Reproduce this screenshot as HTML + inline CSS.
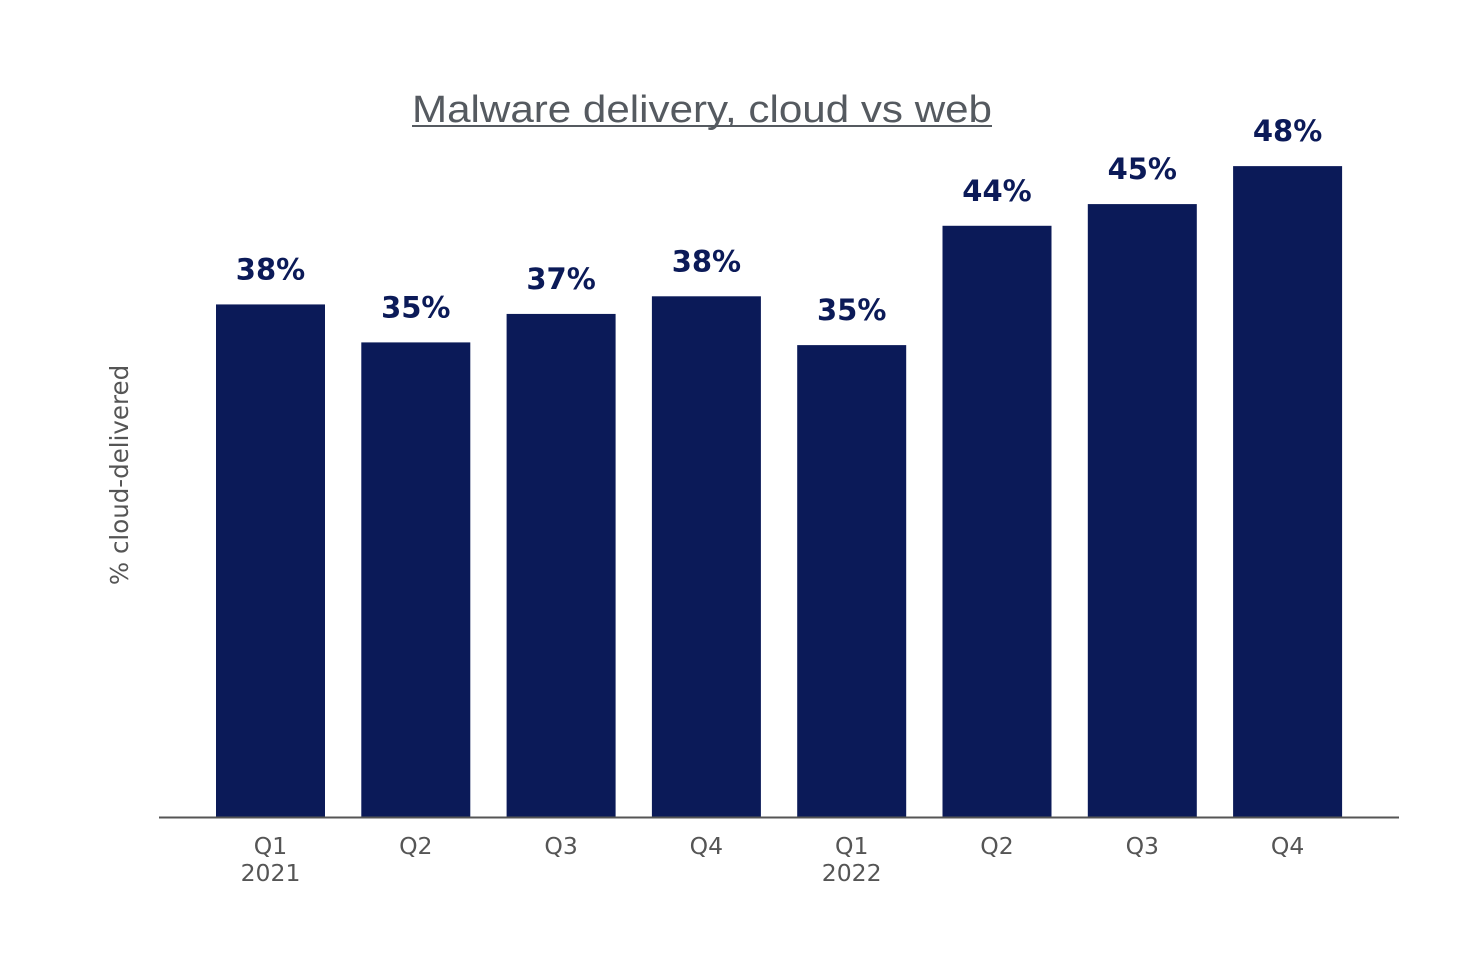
<!DOCTYPE html>
<html><head><meta charset="utf-8"><style>
body{margin:0;background:#fff;}
svg{display:block;}
</style></head><body>
<svg id="chart" width="1458" height="978" xmlns="http://www.w3.org/2000/svg">
<text x="702" y="122" text-anchor="middle" font-family="Liberation Sans, sans-serif" font-size="38" fill="#555a60" textLength="580" lengthAdjust="spacingAndGlyphs">Malware delivery, cloud vs web</text>
<rect x="412" y="125" width="580" height="2" fill="#555a60"/>
<text transform="translate(128,475) rotate(-90)" text-anchor="middle" font-family="DejaVu Sans, sans-serif" font-size="24.5" fill="#555">% cloud-delivered</text>
<g id="bars"></g>
<line x1="159" y1="817.5" x2="1399" y2="817.5" stroke="#555" stroke-width="2"/>
</svg>
<script>
const categories = ["Q1","Q2","Q3","Q4","Q1","Q2","Q3","Q4"];
const years = ["2021","","","","2022","","",""];
const values = [37.8,35.0,37.1,38.4,34.8,43.6,45.2,48.0];
const valueLabels = ["38%","35%","37%","38%","35%","44%","45%","48%"];
const ns="http://www.w3.org/2000/svg";
const g=document.getElementById('bars');
const baseY=817, pxPerUnit=13.56, x0=216, step=145.3, bw=109;
const yScale=v=>baseY-v*pxPerUnit;
const xScale=i=>x0+i*step;
function mk(tag,attrs,txt){const e=document.createElementNS(ns,tag);for(const k in attrs)e.setAttribute(k,attrs[k]);if(txt!==undefined)e.textContent=txt;g.appendChild(e);return e;}
values.forEach((v,i)=>{
  const x=xScale(i), y=yScale(v);
  const r=mk('rect',{x:x,y:y,width:bw,height:baseY-y,fill:'#0b1a58'});
  
  
  const t=mk('text',{x:x+bw/2,y:y-25,'text-anchor':'middle','font-family':'DejaVu Sans, sans-serif','font-weight':'bold','font-size':'29',fill:'#0b1a58'},valueLabels[i]);
  
  
  const c=mk('text',{x:x+bw/2,y:854,'text-anchor':'middle','font-family':'DejaVu Sans, sans-serif','font-size':'23.5',fill:'#555'},categories[i]);
  
  
  if(years[i]){
    const yl=mk('text',{x:x+bw/2,y:881,'text-anchor':'middle','font-family':'DejaVu Sans, sans-serif','font-size':'23.5',fill:'#555'},years[i]);
    
    
  }
});
</script>
</body></html>
